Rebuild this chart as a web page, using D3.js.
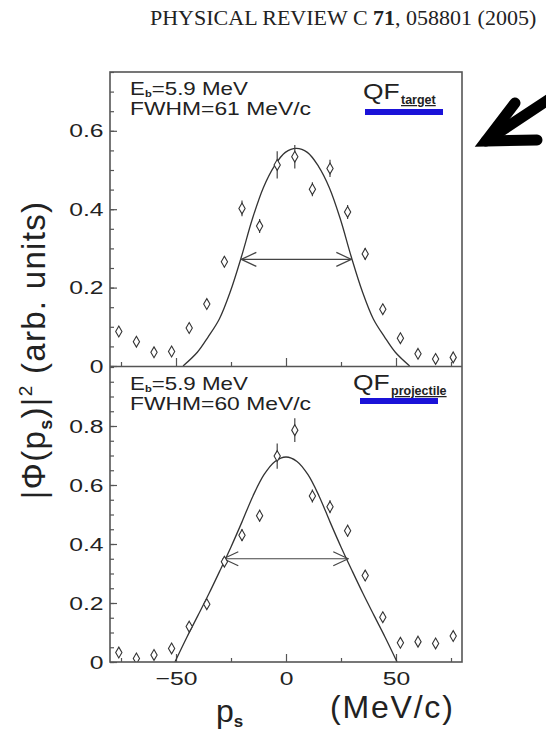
<!DOCTYPE html>
<html>
<head>
<meta charset="utf-8">
<script src="https://cdn.jsdelivr.net/npm/d3@7"></script>
<style>
  body { margin: 0; background: #fff; }
  svg text { font-family: "Liberation Sans", Arial, sans-serif; fill: #222; }
</style>
</head>
<body>
<div id="chart"></div>
<script>
// momentum bins (MeV/c), shared by both panels
const momentum = [-76, -68, -60, -52, -44, -36, -28, -20, -12, -4, 4, 12, 20, 28, 36, 44, 52, 60, 68, 76];

// QF target (upper panel)
const targetValues = [0.088, 0.062, 0.035, 0.037, 0.097, 0.158, 0.266, 0.402, 0.357, 0.513, 0.534, 0.451, 0.504, 0.393, 0.286, 0.145, 0.071, 0.031, 0.018, 0.022];
const targetErrors = [0.01, 0.01, 0.01, 0.01, 0.012, 0.012, 0.014, 0.02, 0.018, 0.035, 0.03, 0.018, 0.022, 0.018, 0.015, 0.012, 0.01, 0.01, 0.01, 0.01];
const targetCurveP = [-46.8, -40.3, -35.3, -30.3, -25.3, -20.3, -15.3, -10.3, -5.3, -0.3, 4.7, 9.7, 14.7, 19.7, 24.7, 29.7, 34.7, 39.7, 44.7, 49.7, 56.2];
const targetCurveV = [0, 0.035, 0.075, 0.12, 0.19, 0.278, 0.375, 0.455, 0.51, 0.545, 0.555, 0.545, 0.51, 0.455, 0.375, 0.278, 0.19, 0.12, 0.075, 0.035, 0];
const targetFwhm = [-20.3, 29.7, 0.272];

// QF projectile (lower panel)
const projValues = [0.032, 0.012, 0.024, 0.046, 0.12, 0.196, 0.34, 0.43, 0.496, 0.698, 0.786, 0.563, 0.526, 0.445, 0.293, 0.152, 0.065, 0.069, 0.063, 0.088];
const projErrors = [0.012, 0.01, 0.01, 0.012, 0.014, 0.015, 0.018, 0.02, 0.02, 0.043, 0.04, 0.022, 0.022, 0.02, 0.018, 0.015, 0.012, 0.012, 0.012, 0.012];
const projCurveP = [-50.5, -45, -40, -35, -30, -25, -20, -15, -10, -5, 0, 5, 10, 15, 20, 25, 30, 35, 40, 45, 50.5];
const projCurveV = [0, 0.085, 0.158, 0.232, 0.31, 0.39, 0.475, 0.563, 0.635, 0.68, 0.695, 0.68, 0.635, 0.563, 0.475, 0.39, 0.31, 0.232, 0.158, 0.085, 0];
const projFwhm = [-28.5, 28.3, 0.35];

// ticks
const xTicks = [-50, 0, 50];
const xMinorTicks = [-75, -25, 25, 75];
const yTicksTop = [0, 0.2, 0.4, 0.6];
const yTicksBottom = [0, 0.2, 0.4, 0.6, 0.8];

const width = 546, height = 731;
const left = 110, right = 462, top1 = 72, mid = 367, bottom = 662;
const frameColor = '#555';
const stretch = 'scale(1.3,1)';   // the scanned labels are wider than Arial

const svg = d3.select('#chart').append('svg')
  .attr('width', width)
  .attr('height', height);

// journal header
const head = svg.append('text')
  .attr('x', 150).attr('y', 25)
  .style('font-family', '"Liberation Serif", "Times New Roman", serif')
  .style('font-size', '22px');
head.append('tspan').text('PHYSICAL REVIEW C ');
head.append('tspan').style('font-weight', 'bold').text('71');
head.append('tspan').text(', 058801 (2005)');

const x = d3.scaleLinear().domain([-80, 80]).range([left, right]);
const yTop = d3.scaleLinear().domain([0, 0.75]).range([366, top1]);
const yBot = d3.scaleLinear().domain([0, 1]).range([bottom, mid]);

const fmt = d => d === 0 ? '0' : d.toFixed(1);

// open arrow heads for the FWHM markers
const defs = svg.append('defs');
defs.append('marker')
  .attr('id', 'head')
  .attr('viewBox', '-17 -9 18 18')
  .attr('refX', 0).attr('refY', 0)
  .attr('markerWidth', 18).attr('markerHeight', 18)
  .attr('markerUnits', 'userSpaceOnUse')
  .attr('orient', 'auto-start-reverse')
  .append('path')
  .attr('d', 'M-15,-7 L0,0 L-15,7')
  .attr('fill', 'none')
  .attr('stroke', '#444')
  .attr('stroke-width', 1.2);

function drawPanel(y, yMajor, minorCount, vals, errs, curveP, curveV, fwhm, clipId, showXLabels) {
  const [y0, y1] = y.range();

  defs.append('clipPath').attr('id', clipId)
    .append('rect')
    .attr('x', left).attr('y', y1)
    .attr('width', right - left).attr('height', y0 - y1);

  // y minor + major ticks (inward)
  const gy = svg.append('g').attr('transform', `translate(${left},0)`);
  gy.append('g').call(d3.axisLeft(y).tickValues(y.ticks(minorCount)).tickSize(-4).tickFormat(''));
  gy.append('g').call(d3.axisLeft(y).tickValues(yMajor).tickSize(-7).tickPadding(5).tickFormat(fmt));
  gy.selectAll('.domain').remove();
  gy.selectAll('line').attr('stroke', frameColor).attr('stroke-width', 1.2);
  gy.selectAll('text').style('font-size', '19px').attr('fill', '#222').attr('transform', stretch);

  // x ticks (inward)
  const gx = svg.append('g').attr('transform', `translate(0,${y0})`);
  gx.append('g').call(d3.axisBottom(x).tickValues(xMinorTicks).tickSize(-4).tickFormat(''));
  gx.append('g').call(d3.axisBottom(x).tickValues(xTicks).tickSize(-8).tickPadding(10)
    .tickFormat(showXLabels ? d3.format('') : ''));
  gx.selectAll('.domain').remove();
  gx.selectAll('line').attr('stroke', frameColor).attr('stroke-width', 1.2);
  gx.selectAll('text').style('font-size', '19px').attr('fill', '#222').attr('transform', stretch);

  const plot = svg.append('g').attr('clip-path', `url(#${clipId})`);

  // fitted curve
  const line = d3.line()
    .x(d => x(d[0]))
    .y(d => y(d[1]))
    .curve(d3.curveCatmullRom);
  plot.append('path')
    .datum(d3.zip(curveP, curveV))
    .attr('d', line)
    .attr('fill', 'none')
    .attr('stroke', '#333')
    .attr('stroke-width', 1.3);

  // FWHM double arrow
  plot.append('line')
    .attr('x1', x(fwhm[0])).attr('x2', x(fwhm[1]))
    .attr('y1', y(fwhm[2])).attr('y2', y(fwhm[2]))
    .attr('stroke', '#444').attr('stroke-width', 1.2)
    .attr('marker-start', 'url(#head)')
    .attr('marker-end', 'url(#head)');

  const pts = d3.zip(momentum, vals, errs);

  // error bars
  plot.selectAll(null).data(pts).join('line')
    .attr('x1', d => x(d[0])).attr('x2', d => x(d[0]))
    .attr('y1', d => y(d[1] - d[2])).attr('y2', d => y(d[1] + d[2]))
    .attr('stroke', '#444').attr('stroke-width', 1.2);

  // open diamonds
  plot.selectAll(null).data(pts).join('path')
    .attr('transform', d => `translate(${x(d[0])},${y(d[1])})`)
    .attr('d', d3.symbol().type(d3.symbolDiamond).size(34))
    .attr('fill', '#fff')
    .attr('stroke', '#333')
    .attr('stroke-width', 1.1);
}

drawPanel(yTop, yTicksTop, 15, targetValues, targetErrors, targetCurveP, targetCurveV, targetFwhm, 'clipTop', false);
drawPanel(yBot, yTicksBottom, 20, projValues, projErrors, projCurveP, projCurveV, projFwhm, 'clipBot', true);

// frame
svg.append('rect')
  .attr('x', left).attr('y', top1)
  .attr('width', right - left).attr('height', bottom - top1)
  .attr('fill', 'none').attr('stroke', frameColor).attr('stroke-width', 1.6);
svg.append('line')
  .attr('x1', left).attr('x2', right)
  .attr('y1', mid - 0.5).attr('y2', mid - 0.5)
  .attr('stroke', frameColor).attr('stroke-width', 1.6);

// panel annotations
function beamText(xp, yb, fwhmLabel) {
  const t1 = svg.append('text')
    .attr('transform', `translate(${xp},${yb}) scale(1.24,1)`)
    .style('font-size', '18px');
  t1.append('tspan').text('E');
  t1.append('tspan').attr('dy', 2).style('font-size', '9px').style('font-weight', 'bold').text('b');
  t1.append('tspan').attr('dy', -2).text('=5.9 MeV');
  svg.append('text')
    .attr('transform', `translate(${xp},${yb + 19.5}) scale(1.27,1)`)
    .style('font-size', '18px')
    .text(fwhmLabel);
}
beamText(130, 95, 'FWHM=61 MeV/c');
beamText(130, 390, 'FWHM=60 MeV/c');

function qfText(xp, yb, sub, barX, barW, barY) {
  svg.append('text')
    .attr('transform', `translate(${xp},${yb}) scale(1.2,1)`)
    .style('font-size', '22px')
    .text('QF');
  svg.append('text')
    .attr('x', xp + 38).attr('y', yb + 5)
    .style('font-size', '12.5px').style('font-weight', 'bold')
    .style('text-decoration', 'underline')
    .text(sub);
  svg.append('rect').attr('x', barX).attr('y', barY).attr('width', barW).attr('height', 6)
    .attr('fill', '#1a12d8');
}
qfText(363, 99, 'target', 365, 78, 109);
qfText(353, 390, 'projectile', 360, 78, 398);

// y label
const yl = svg.append('text')
  .attr('transform', 'translate(45,350) rotate(-90)')
  .attr('text-anchor', 'middle')
  .style('font-size', '33px')
  .style('letter-spacing', '1.3px');
yl.append('tspan').text('|Φ(p');
yl.append('tspan').attr('dy', 7).style('font-size', '18px').style('font-weight', 'bold').text('s');
yl.append('tspan').attr('dy', -7).text(')|');
yl.append('tspan').attr('dy', -13).style('font-size', '19px').text('2');
yl.append('tspan').attr('dy', 13).text(' (arb. units)');

// x label
const xl = svg.append('text').attr('x', 216).attr('y', 722).style('font-size', '32px');
xl.append('tspan').text('p');
xl.append('tspan').attr('dy', 5).style('font-size', '17px').style('font-weight', 'bold').text('s');
svg.append('text').attr('x', 330).attr('y', 718).style('font-size', '32px')
  .style('letter-spacing', '1.8px').text('(MeV/c)');

// big pointer arrow at top right
const pointer = svg.append('g')
  .attr('stroke', '#000').attr('stroke-width', 11)
  .attr('stroke-linecap', 'round').attr('fill', 'none');
pointer.append('path').attr('d', 'M560,92 L486,141');
pointer.append('path').attr('d', 'M515,103 L486,141 L537,140').attr('stroke-linejoin', 'miter');
</script>
</body>
</html>
